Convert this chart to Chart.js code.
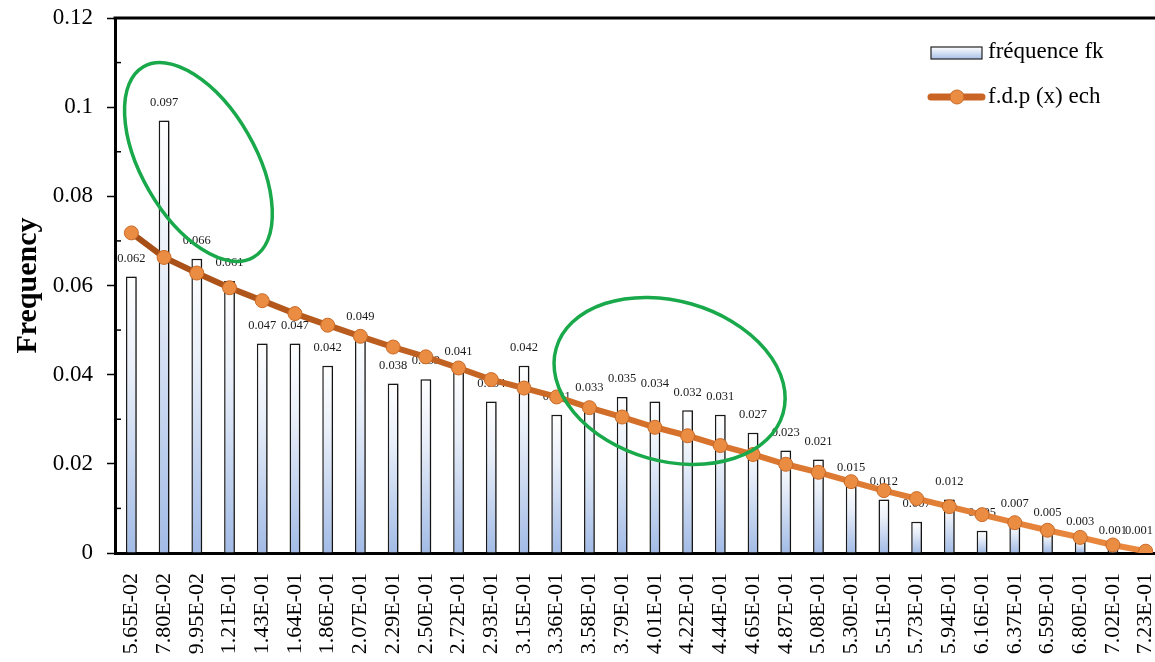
<!DOCTYPE html>
<html>
<head>
<meta charset="utf-8">
<script src="https://cdn.jsdelivr.net/npm/chart.js@4"></script>
<style>
  html, body { margin: 0; padding: 0; background: #fff; overflow: hidden; }
  canvas { display: block; }
</style>
</head>
<body>
<canvas id="chart" width="1170" height="662"></canvas>
<script>
// class centres (x axis)
const categories = ['5.65E-02', '7.80E-02', '9.95E-02', '1.21E-01', '1.43E-01', '1.64E-01', '1.86E-01', '2.07E-01',
  '2.29E-01', '2.50E-01', '2.72E-01', '2.93E-01', '3.15E-01', '3.36E-01', '3.58E-01', '3.79E-01',
  '4.01E-01', '4.22E-01', '4.44E-01', '4.65E-01', '4.87E-01', '5.08E-01', '5.30E-01', '5.51E-01',
  '5.73E-01', '5.94E-01', '6.16E-01', '6.37E-01', '6.59E-01', '6.80E-01', '7.02E-01', '7.23E-01'];

// observed frequencies fk (bars)
const frequencyFk = [0.062, 0.097, 0.066, 0.061, 0.047, 0.047, 0.042, 0.049,
  0.038, 0.039, 0.041, 0.034, 0.042, 0.031, 0.033, 0.035,
  0.034, 0.032, 0.031, 0.027, 0.023, 0.021, 0.015, 0.012,
  0.007, 0.012, 0.005, 0.007, 0.005, 0.003, 0.001, 0.001];

// fitted density (line)
const fdpEch = [0.0718, 0.0663, 0.0628, 0.0595, 0.0566, 0.0537, 0.0511, 0.0486,
  0.0462, 0.0440, 0.0415, 0.0389, 0.0370, 0.0350, 0.0326, 0.0305,
  0.0282, 0.0263, 0.0241, 0.0221, 0.0199, 0.0181, 0.0160, 0.0140,
  0.0122, 0.0104, 0.0086, 0.0068, 0.0051, 0.0035, 0.0018, 0.0004];

const yTicks = [0, 0.02, 0.04, 0.06, 0.08, 0.1, 0.12];

// green highlight ellipses: centre as (category index, value)
const highlightX = [2.05, 16.45];
const highlightY = [0.0877, 0.0386];

const SERIF = "'Liberation Serif', 'Times New Roman', serif";

const barGradient = (ctx) => {
  const chart = ctx.chart;
  if (!chart.chartArea || ctx.raw == null) return '#c9d7ef';
  const y = chart.scales.y;
  const top = y.getPixelForValue(ctx.raw);
  const bottom = y.getPixelForValue(0);
  const g = chart.ctx.createLinearGradient(0, top, 0, bottom + 0.01);
  g.addColorStop(0, '#ffffff');
  g.addColorStop(0.35, '#e9eff9');
  g.addColorStop(1, '#a2bbe6');
  return g;
};

const lineGradient = (ctx) => {
  const chart = ctx.chart;
  const area = chart.chartArea;
  if (!area) return '#c8641e';
  const g = chart.ctx.createLinearGradient(area.left, 0, area.right, 0);
  g.addColorStop(0, '#a44c16');
  g.addColorStop(0.5, '#d4702a');
  g.addColorStop(1, '#ec8a40');
  return g;
};

// bar shadows + value labels, drawn before the line
const barExtras = {
  id: 'barExtras',
  beforeDatasetDraw(chart, args) {
    if (args.index !== 0) return;
    const c = chart.ctx;
    c.save();
    c.shadowColor = 'rgba(0,0,0,0.35)';
    c.shadowBlur = 4;
    c.shadowOffsetX = 3;
  },
  afterDatasetDraw(chart, args) {
    if (args.index !== 0) return;
    const c = chart.ctx;
    c.restore();
    c.save();
    c.font = '12.5px ' + SERIF;
    c.fillStyle = '#1a1a1a';
    c.textAlign = 'center';
    c.textBaseline = 'middle';
    const maxX = window.innerWidth - 2;
    args.meta.data.forEach((bar, i) => {
      const txt = frequencyFk[i].toFixed(3);
      const half = c.measureText(txt).width / 2;
      c.fillText(txt, Math.min(bar.x, maxX - half), bar.y - 18);
    });
    c.restore();
  }
};

// top border, minor ticks, ellipses, legend
const decorations = {
  id: 'decorations',
  afterDatasetsDraw(chart) {
    const c = chart.ctx;
    const area = chart.chartArea;
    const x = chart.scales.x, y = chart.scales.y;
    c.save();
    c.strokeStyle = '#000';
    c.lineWidth = 3;
    c.beginPath();
    c.moveTo(area.left - 1.5, area.top);
    c.lineTo(area.right, area.top);
    c.stroke();

    c.lineWidth = 1.5;
    for (let i = 0; i < yTicks.length - 1; i++) {
      const py = y.getPixelForValue((yTicks[i] + yTicks[i + 1]) / 2);
      c.beginPath();
      c.moveTo(area.left, py);
      c.lineTo(area.left + 6, py);
      c.stroke();
    }

    const radii = [[110, 57], [118, 80]];
    const angles = [60, 16];
    c.strokeStyle = '#19a94b';
    c.lineWidth = 3.5;
    highlightX.forEach((hx, i) => {
      const px = x.getPixelForValue(0) + hx * (x.getPixelForValue(1) - x.getPixelForValue(0));
      const py = y.getPixelForValue(highlightY[i]);
      c.beginPath();
      c.ellipse(px, py, radii[i][0], radii[i][1], angles[i] * Math.PI / 180, 0, Math.PI * 2);
      c.stroke();
    });

    // legend
    const lg = c.createLinearGradient(0, 47, 0, 59);
    lg.addColorStop(0, '#ffffff');
    lg.addColorStop(1, '#a7bfe7');
    c.fillStyle = lg;
    c.fillRect(931, 47, 51, 12);
    c.strokeStyle = '#222';
    c.lineWidth = 1.2;
    c.strokeRect(931, 47, 51, 12);

    c.strokeStyle = '#c96424';
    c.lineWidth = 7;
    c.lineCap = 'round';
    c.beginPath();
    c.moveTo(931, 97);
    c.lineTo(982, 97);
    c.stroke();
    c.fillStyle = '#ea8c42';
    c.strokeStyle = '#c96a28';
    c.lineWidth = 1;
    c.beginPath();
    c.arc(957, 97, 7, 0, Math.PI * 2);
    c.fill();
    c.stroke();

    c.fillStyle = '#000';
    c.font = '23px ' + SERIF;
    c.textAlign = 'left';
    c.textBaseline = 'middle';
    c.fillText(chart.data.datasets[0].label, 988, 52);
    c.fillText(chart.data.datasets[1].label, 988, 97);
    c.restore();
  }
};

new Chart(document.getElementById('chart'), {
  data: {
    labels: categories,
    datasets: [
      {
        type: 'bar',
        label: 'fréquence fk',
        data: frequencyFk,
        backgroundColor: barGradient,
        borderColor: '#1a1a1a',
        borderWidth: 1.5,
        barPercentage: 0.66,
        categoryPercentage: 0.5,
        order: 1
      },
      {
        type: 'line',
        label: 'f.d.p (x) ech',
        data: fdpEch,
        borderColor: lineGradient,
        borderWidth: 6,
        tension: 0,
        pointRadius: 7,
        pointBackgroundColor: '#ea8c42',
        pointBorderColor: '#c96a28',
        pointBorderWidth: 1,
        order: 0
      }
    ]
  },
  options: {
    responsive: false,
    animation: false,
    layout: { padding: { top: 18, right: 0, left: 0, bottom: 0 } },
    plugins: {
      legend: { display: false },
      tooltip: { enabled: false }
    },
    scales: {
      x: {
        grid: { display: false },
        border: { display: true, color: '#000', width: 3 },
        ticks: {
          autoSkip: false,
          minRotation: 90,
          maxRotation: 90,
          padding: 12,
          color: '#000',
          font: { family: SERIF, size: 22 }
        },
        afterFit(scale) {
          scale.height = 109;
          scale.paddingLeft = 0;
          scale.paddingRight = 0;
        }
      },
      y: {
        min: 0,
        max: 0.12,
        grid: { drawOnChartArea: false, drawTicks: true, tickLength: 8, tickWidth: 1.5, tickColor: '#000' },
        border: { display: true, color: '#000', width: 3 },
        afterBuildTicks(scale) { scale.ticks = yTicks.map(v => ({ value: v })); },
        ticks: {
          padding: 14,
          color: '#000',
          font: { family: SERIF, size: 23 },
          callback: (v) => String(Number(v.toFixed(2)))
        },
        title: {
          display: true,
          text: 'Frequency',
          color: '#000',
          padding: { top: 10, bottom: 0 },
          font: { family: SERIF, size: 30, weight: 'bold' }
        },
        afterFit(scale) {
          scale.width = 115;
          scale.paddingTop = 0;
          scale.paddingBottom = 0;
        }
      }
    }
  },
  plugins: [barExtras, decorations]
});
</script>
</body>
</html>
